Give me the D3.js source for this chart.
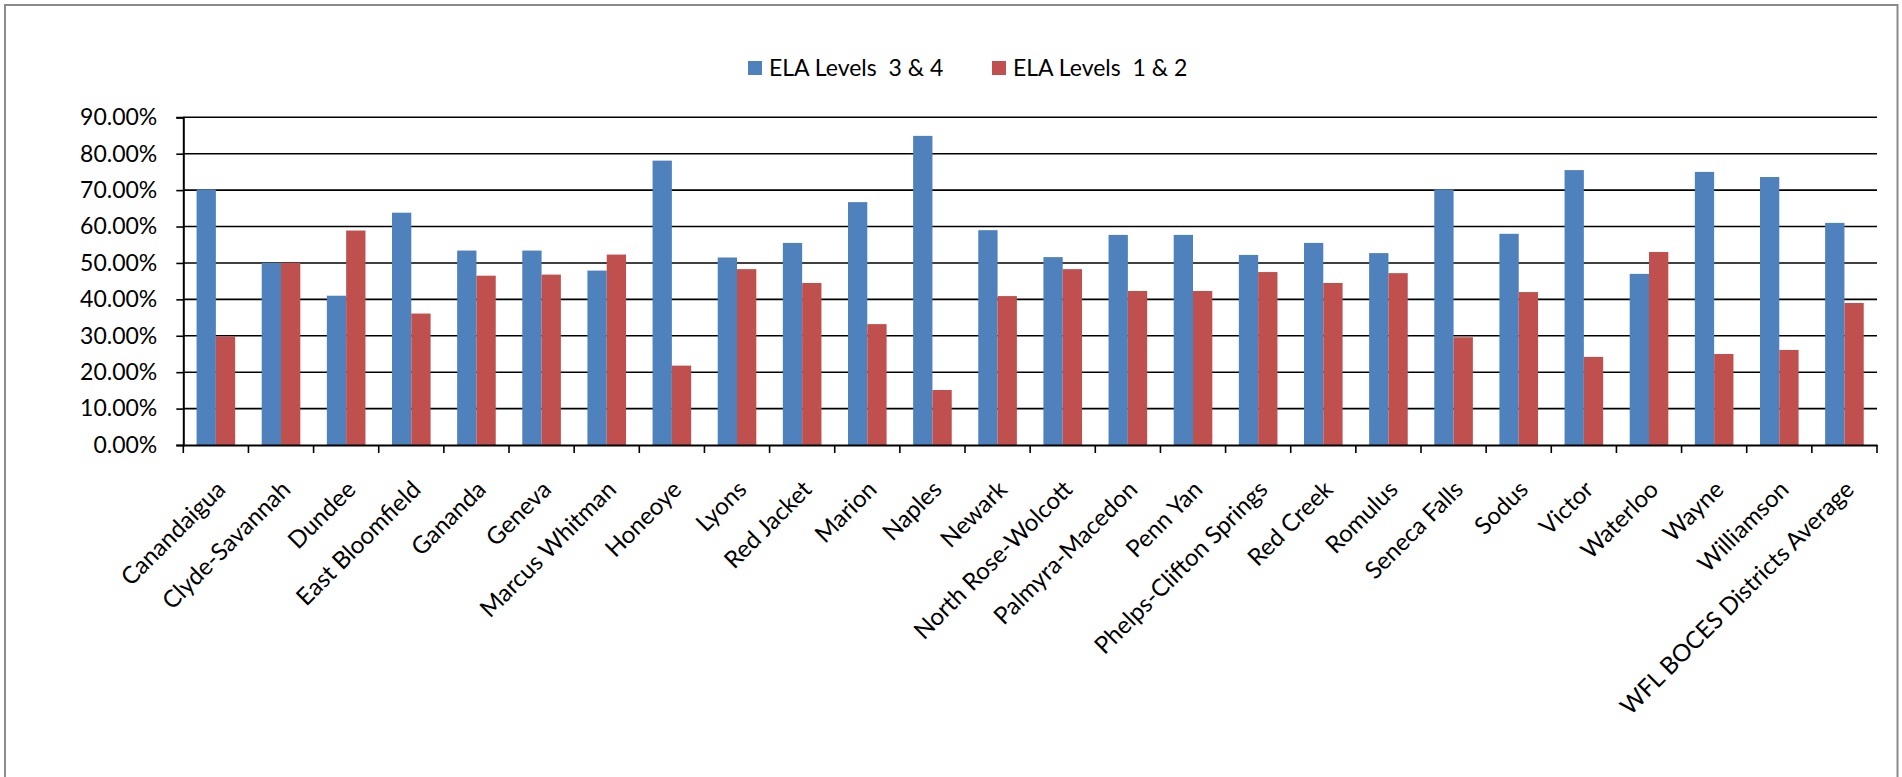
<!DOCTYPE html>
<html>
<head>
<meta charset="utf-8">
<script src="https://cdn.jsdelivr.net/npm/d3@7"></script>
<style>
  html, body { margin: 0; padding: 0; background: #fff; overflow: hidden; }
  svg { display: block; }
  text { font-family: Lato, "Open Sans", sans-serif; fill: #000; white-space: pre; }
</style>
</head>
<body>
<svg id="chart" width="1902" height="777"></svg>
<script>
const categories = [
  "Canandaigua", "Clyde-Savannah", "Dundee", "East Bloomfield", "Gananda", "Geneva",
  "Marcus Whitman", "Honeoye", "Lyons", "Red Jacket", "Marion", "Naples", "Newark",
  "North Rose-Wolcott", "Palmyra-Macedon", "Penn Yan", "Phelps-Clifton Springs",
  "Red Creek", "Romulus", "Seneca Falls", "Sodus", "Victor", "Waterloo", "Wayne",
  "Williamson", "WFL BOCES Districts Average"
];
const seriesNames = ["ELA Levels  3 & 4", "ELA Levels  1 & 2"];
const levels34 = [70.2, 50.0, 41.0, 63.8, 53.4, 53.4, 47.9, 78.1, 51.5, 55.5, 66.7, 84.9, 59.0,
  51.6, 57.7, 57.7, 52.2, 55.5, 52.7, 70.2, 58.0, 75.5, 47.0, 75.0, 73.6, 61.0];
const levels12 = [29.8, 50.0, 58.9, 36.1, 46.5, 46.8, 52.3, 21.8, 48.3, 44.5, 33.2, 15.1, 40.9,
  48.3, 42.3, 42.3, 47.5, 44.5, 47.2, 29.6, 42.0, 24.2, 53.0, 25.0, 26.1, 39.0];
const yTicks = [0, 0.1, 0.2, 0.3, 0.4, 0.5, 0.6, 0.7, 0.8, 0.9];
const colors = ["#4F81BD", "#C0504D"];

(function () {
const svg = d3.select("#chart");
const pLeft = 183.3, pRight = 1877, pTop = 117.3, pBottom = 445;
const fontSize = 23, xFontSize = 24;

// outer border
svg.append("rect").attr("x", 5).attr("y", 5).attr("width", 1892.5).attr("height", 820)
  .attr("fill", "#fff").attr("stroke", "#8a8a8a").attr("stroke-width", 2);

const x0 = d3.scaleBand().domain(categories).range([pLeft, pRight]).padding(0);
const bw = x0.bandwidth();
const x1 = d3.scaleBand().domain(seriesNames).range([bw * 0.2037, bw * 0.7963]).padding(0);
const y = d3.scaleLinear().domain([0, 0.9]).range([pBottom, pTop]);

// gridlines
svg.append("g").selectAll("line").data(yTicks.filter(d => d > 0)).join("line")
  .attr("x1", pLeft).attr("x2", pRight)
  .attr("y1", d => y(d)).attr("y2", d => y(d))
  .attr("stroke", "#000").attr("stroke-width", 1.6);

// bars
const data = categories.map((c, i) => ({ c, vals: [levels34[i] / 100, levels12[i] / 100] }));
const groups = svg.append("g").selectAll("g").data(data).join("g")
  .attr("transform", d => `translate(${x0(d.c)},0)`);
groups.selectAll("rect").data(d => d.vals.map((v, j) => ({ v, s: seriesNames[j], j })))
  .join("rect")
  .attr("x", d => x1(d.s)).attr("width", x1.bandwidth())
  .attr("y", d => y(d.v)).attr("height", d => pBottom - y(d.v))
  .attr("fill", d => colors[d.j]);

// y axis
const yAxis = svg.append("g").attr("transform", `translate(${pLeft},0)`)
  .call(d3.axisLeft(y).tickValues(yTicks).tickFormat(d3.format(".2%")).tickSize(7).tickPadding(19));
yAxis.select(".domain").attr("stroke", "#000").attr("stroke-width", 2);
yAxis.selectAll(".tick line").attr("stroke", "#000").attr("stroke-width", 1.6);
yAxis.attr("font-family", null).attr("font-size", null);
yAxis.selectAll("text").style("font-size", fontSize + "px");

// x axis
const xAxis = svg.append("g").attr("transform", `translate(0,${pBottom})`)
  .call(d3.axisBottom(x0).tickSize(0).tickFormat(() => ""));
xAxis.select(".domain").attr("stroke", "#000").attr("stroke-width", 2);
xAxis.selectAll(".tick").remove();
const bounds = categories.map(c => x0(c)).concat([pRight]);
svg.append("g").selectAll("line").data(bounds).join("line")
  .attr("x1", d => d).attr("x2", d => d)
  .attr("y1", pBottom).attr("y2", pBottom + 8)
  .attr("stroke", "#000").attr("stroke-width", 1.6);

// x labels
svg.append("g").selectAll("text").data(categories).join("text")
  .attr("text-anchor", "end")
  .attr("transform", d => `translate(${x0(d) + bw / 2 + 11},${pBottom + 46}) rotate(-45)`)
  .style("font-size", xFontSize + "px")
  .text(d => d);

// legend
const legendItems = [{ name: seriesNames[0], x: 748 }, { name: seriesNames[1], x: 992 }];
const lg = svg.append("g").selectAll("g").data(legendItems).join("g")
  .attr("transform", d => `translate(${d.x},61)`);
lg.append("rect").attr("width", 14).attr("height", 14).attr("fill", (d, i) => colors[i]);
lg.append("text").attr("x", 21).attr("y", 14.7).style("font-size", fontSize + "px").text(d => d.name);
})();
</script>
</body>
</html>
